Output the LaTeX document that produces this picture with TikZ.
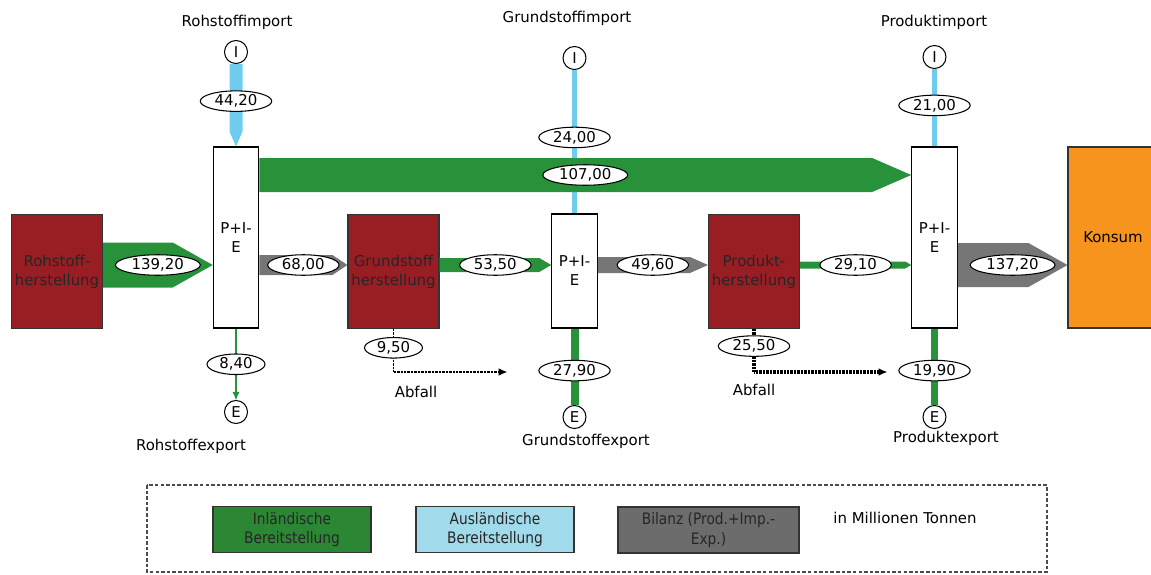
\documentclass[tikz,border=0pt]{standalone}
\usepackage{fontspec}
\setmainfont{DejaVu Sans}
\newfontfamily\legendfont[FakeStretch=0.87]{DejaVu Sans}
\usepackage{tikz}
\usepackage{xcolor}
\usetikzlibrary{calc,shapes.geometric,arrows.meta}

\definecolor{inland}{RGB}{40,146,58}
\definecolor{inlandleg}{RGB}{44,135,52}
\definecolor{ausland}{RGB}{110,204,238}
\definecolor{auslandleg}{RGB}{160,218,235}
\definecolor{bilanz}{RGB}{118,118,118}
\definecolor{bilanzleg}{RGB}{108,108,108}
\definecolor{werk}{RGB}{152,30,36}
\definecolor{konsum}{RGB}{247,148,29}

% flow band with a head: colour, from, to, half width, head length, amount
\newcommand{\hflow}[6]{%
  \fill[#1] ($(#2)+(0,-#4)$) -- ($(#3)+(-#5,-#4)$) -- (#3) -- ($(#3)+(-#5,#4)$) -- ($(#2)+(0,#4)$) -- cycle;
  \path (#2) -- node[amount] {#6} (#3);}

\begin{document}
\begin{tikzpicture}[x=0.2mm, y=-0.2mm,
        font=\fontsize{8.5}{10.8}\selectfont,
        werkbox/.style={rectangle, draw=black!80, fill=werk, text=black!85, line width=0.6pt, minimum width=18.2mm, minimum height=22.7mm, align=center, inner sep=0pt},
        piebox/.style={rectangle, draw=black, fill=white, line width=0.6pt, minimum width=9.1mm, align=center, inner sep=0pt},
        amount/.style={ellipse, draw=black, fill=white, text=black, solid, line width=0.6pt, inner xsep=2.2pt, inner ysep=0pt, minimum height=4.1mm},
        iocircle/.style={circle, draw=black, fill=white, line width=0.6pt, minimum size=4.6mm, inner sep=0pt},
        waste/.style={black, dash pattern=on 0.4pt off 0.4pt, -{Latex[length=1.7mm,width=1.5mm,line width=0pt]}},
        legbox/.style={rectangle, draw=black!80, line width=0.8pt, minimum height=9mm, align=center, text=black!85, font=\legendfont\fontsize{9}{11}\selectfont}
        ]
            \useasboundingbox (0,0) rectangle (1151,575);

            \node[werkbox] (rh) at (57,271.5) {Rohstoff-\\herstellung};
            \node[werkbox] (gh) at (393.5,271.5) {Grundstoff\\herstellung};
            \node[werkbox] (ph) at (754,271.5) {Produkt-\\herstellung};
            \node[piebox, minimum height=36.2mm] (pie1) at (236,237.5) {P+I-\\E};
            \node[piebox, minimum height=22.8mm] (pie2) at (574.5,271) {P+I-\\E};
            \node[piebox, minimum height=36.2mm] (pie3) at (934.5,237.5) {P+I-\\E};
            \node[rectangle, draw=black!80, fill=konsum, line width=0.6pt, minimum width=18mm, minimum height=36.2mm] (ko) at (1113,237.5) {Konsum};

            \node[iocircle] (imp1) at (236,52) {I};
            \node[iocircle] (imp2) at (574.5,58) {I};
            \node[iocircle] (imp3) at (934.5,57) {I};
            \node[iocircle] (exp1) at (236,412) {E};
            \node[iocircle] (exp2) at (574.5,417) {E};
            \node[iocircle] (exp3) at (934.5,417) {E};

            \node (timp1) at (237,22) {Rohstoffimport};
            \node (timp2) at (567,18) {Grundstoffimport};
            \node (timp3) at (934,22) {Produktimport};
            \node (texp1) at (191,446) {Rohstoffexport};
            \node (texp2) at (586,441) {Grundstoffexport};
            \node (texp3) at (946,438) {Produktexport};
            \node (abf1) at (416,392) {Abfall};
            \node (abf2) at (754,390) {Abfall};

            \coordinate (flow) at (0,265);
            \coordinate (band) at (0,175);
            \coordinate (waste1) at (507,372);
            \coordinate (waste2) at (887,372);

            % imports
            \fill[ausland] ($(imp1.south)+(-6.5,0)$) -- ($(pie1.north)+(-6.5,-15)$) -- (pie1.north) -- ($(pie1.north)+(6.5,-15)$) -- ($(imp1.south)+(6.5,0)$) -- cycle;
            \path (imp1.south) -- node[amount, pos=0.45] {44,20} (pie1.north);
            \draw[ausland, line width=1mm] (imp2.south) -- node[amount, pos=0.47] {24,00} (pie2.north);
            \draw[ausland, line width=1.1mm] (imp3.south) -- node[amount, pos=0.47] {21,00} (pie3.north);

            % domestic flows and balances
            \hflow{inland}{pie1.east |- band}{pie3.west |- band}{17}{39}{107,00}
            \hflow{inland}{rh.east |- flow}{pie1.west |- flow}{22.5}{40}{139,20}
            \hflow{bilanz}{pie1.east |- flow}{gh.west |- flow}{10}{15}{68,00}
            \hflow{inland}{gh.east |- flow}{pie2.west |- flow}{7}{12}{53,50}
            \hflow{bilanz}{pie2.east |- flow}{ph.west |- flow}{8}{18}{49,60}
            \hflow{inland}{ph.east |- flow}{pie3.west |- flow}{3.5}{6}{29,10}
            \hflow{bilanz}{pie3.east |- flow}{ko.west |- flow}{22}{39}{137,20}

            % exports
            \draw[inland, line width=0.4mm, -{Latex[length=1.6mm,width=1.4mm,line width=0pt]}] (pie1.south) -- node[amount] {8,40} (exp1.north);
            \draw[inland, line width=1.6mm] (pie2.south) -- node[amount, pos=0.55] {27,90} (exp2.north);
            \draw[inland, line width=1.4mm] (pie3.south) -- node[amount, pos=0.55] {19,90} (exp3.north);

            % waste
            \draw[waste, line width=0.35mm] (gh.south) |- node[amount, pos=0.22] {9,50} (waste1);
            \draw[waste, line width=0.8mm] (ph.south) |- node[amount, pos=0.2] {25,50} (waste2);

            % legend
            \draw[black!70, line width=0.6pt, dash pattern=on 2pt off 1.2pt] (147,485) rectangle (1047,572);
            \node[legbox, fill=inlandleg, minimum width=31.6mm] (leg1) at (292,529.5) {Inländische\\Bereitstellung};
            \node[legbox, fill=auslandleg, minimum width=31.6mm] (leg2) at (495,529.5) {Ausländische\\Bereitstellung};
            \node[legbox, fill=bilanzleg, minimum width=36.2mm] (leg3) at (708.5,530) {Bilanz (Prod.+Imp.-\\Exp.)};
            \node (unit) at (905,518) {in Millionen Tonnen};

        \end{tikzpicture}
\end{document}
